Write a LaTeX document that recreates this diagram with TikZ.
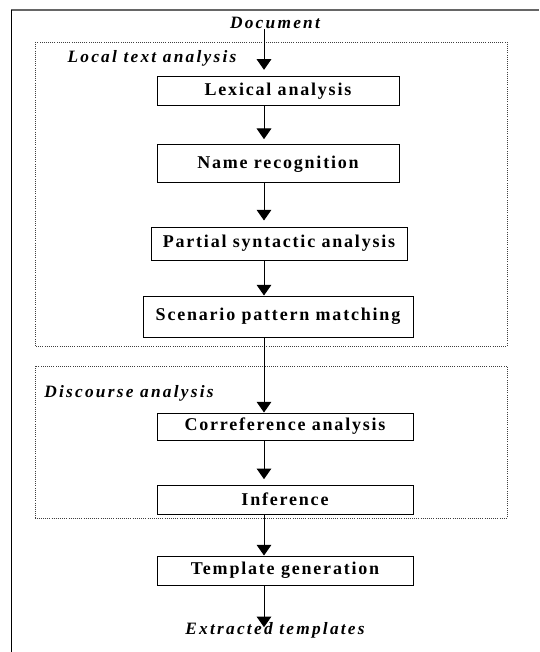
\documentclass[tikz,border=0pt]{standalone}
\usepackage{fontspec}
\setmainfont{Liberation Serif}
\newfontfamily\boxfont{Liberation Serif}[LetterSpace=10]
\newfontfamily\lblfont{Liberation Serif}[LetterSpace=13]
\usepackage{tikz}
\usetikzlibrary{arrows.meta}

\begin{document}
\begin{tikzpicture}
        [x=0.75pt, y=-0.75pt,
        bstyle/.style={draw, line width=0.75pt, inner sep=0pt, font=\boxfont\fontsize{13.5pt}{15pt}\selectfont\bfseries, minimum width=192pt, minimum height=21.75pt},
        lstyle/.style={inner sep=0pt, font=\lblfont\fontsize{13pt}{15pt}\selectfont\bfseries\itshape},
        gstyle/.style={draw=black!75, densely dotted, line width=0.6pt},
        dstyle/.style={-{Triangle[length=8pt, width=11pt]}, line width=0.75pt}]

        \useasboundingbox (0,0) rectangle (539,652);
        \draw[black!60, line width=1.3pt] (11,10) -- (539,10);
        \draw[line width=0.75pt] (11,10) -- (11,652);

        \draw[gstyle] (35,42) rectangle (507,346);
        \draw[gstyle] (35,366) rectangle (507,518);

        \coordinate (ax) at (264,0);

        \node[lstyle] (doc)    at (275,23)  {Document};
        \node[lstyle] (local)  at (152,58)  {Local text analysis};
        \node[lstyle] (disc)   at (129,393) {Discourse analysis};
        \node[lstyle] (ext)    at (275,630) {Extracted templates};

        \node[bstyle, minimum width=181.5pt] (lex)  at (278,91.5)  {Lexical analysis};
        \node[bstyle, minimum width=181.5pt, minimum height=28.5pt] (name) at (278,164) {Name recognition};
        \node[bstyle, minimum width=192pt, minimum height=24.75pt] (part) at (279,243.5) {Partial syntactic analysis};
        \node[bstyle, minimum width=202.5pt, minimum height=30.75pt] (scen) at (278,316.5) {Scenario pattern matching};
        \node[bstyle, minimum height=20.25pt] (coref) at (285,426.5) {Correference analysis};
        \node[bstyle] (infer) at (285,499.5) {Inference};
        \node[bstyle] (templ) at (285,570.5) {Template generation};

        \draw[dstyle, shorten >=5pt] (doc.south -| ax) -- (lex.north -| ax);
        \draw[dstyle, shorten >=4pt] (lex.south -| ax) -- (name.north -| ax);
        \draw[dstyle, shorten >=4.5pt] (name.south -| ax) -- (part.north -| ax);
        \draw[dstyle] (part.south -| ax) -- (scen.north -| ax);
        \draw[dstyle] (scen.south -| ax) -- (coref.north -| ax);
        \draw[dstyle, shorten >=4pt] (coref.south -| ax) -- (infer.north -| ax);
        \draw[dstyle] (infer.south -| ax) -- (templ.north -| ax);
        \draw[dstyle, shorten >=-4pt] (templ.south -| ax) -- (ext.north -| ax);
    \end{tikzpicture}
\end{document}
